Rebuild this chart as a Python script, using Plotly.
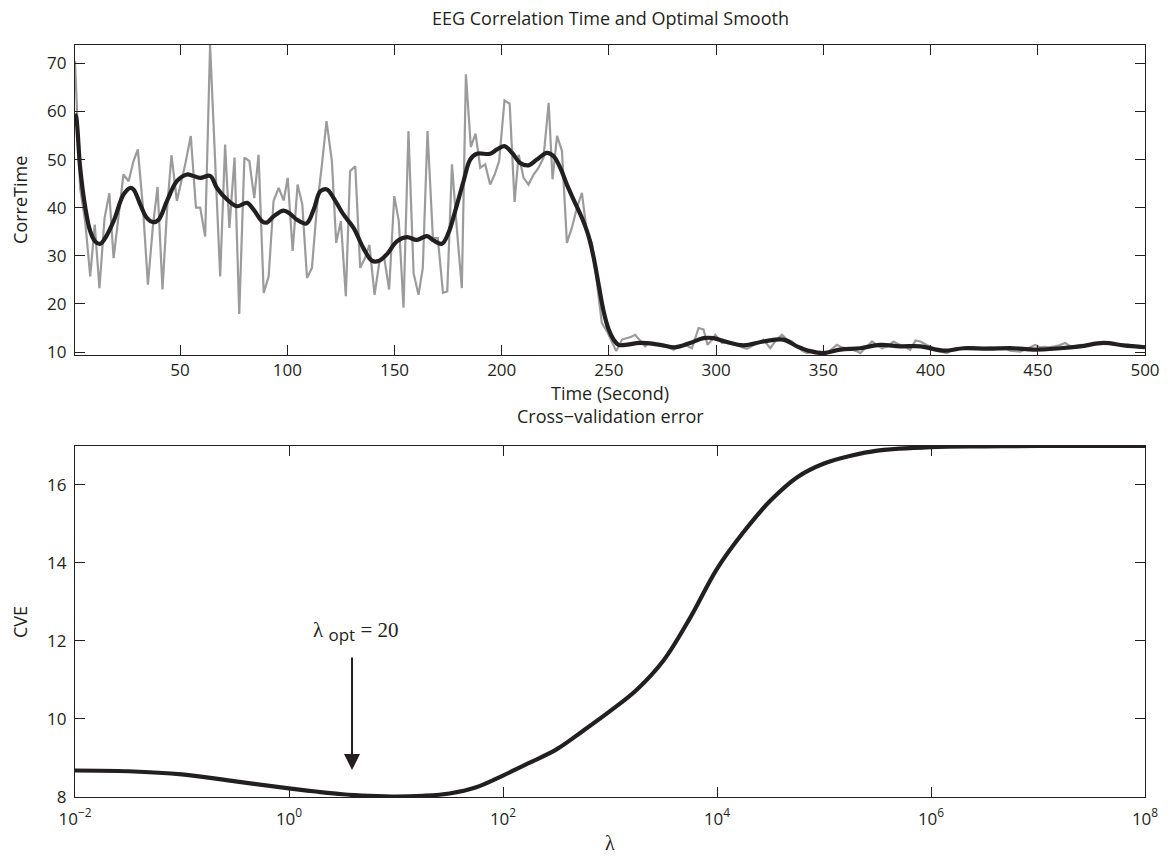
import plotly.graph_objects as go

# ---------------- data: top panel ----------------
raw_t = [1, 3.4, 5.8, 8.1, 10.2, 12.4, 14.8, 17, 19, 21.3, 23.6, 26, 28.3, 30.3, 32.7, 35, 37.3, 39.5, 41.8, 44,
         46, 48.5, 50.5, 52.4, 55, 57.4, 59.4, 61.7, 64, 66.3, 68.7, 71, 73, 75.4, 77.6, 80, 82.3, 84.6, 86.6, 89,
         91.3, 93.6, 96, 98.3, 100.2, 102.5, 104.8, 107, 109.2, 111.5, 113.8, 116, 118.3, 120.8, 122.8, 125, 127.3,
         129.3, 131.7, 134, 136.3, 138.3, 140.7, 143, 145.2, 147.5, 149.9, 152, 154.2, 156.5, 158.9, 161.2, 163.2,
         165.4, 167.9, 170.2, 172.6, 174.6, 176.8, 179.1, 181.4, 183.3, 185.6, 187.8, 190, 192.3, 194.6, 196.7,
         198.8, 201.3, 203.7, 206, 207.9, 210.2, 212.5, 214.9, 217.2, 219.5, 221.9, 223.7, 225.8, 228.1, 230.4,
         232.7, 235.1, 237.4, 239.7, 242.1, 244.4, 246.7, 249.1, 251.4, 253.4, 256.1, 258.4, 260.5, 262.2, 264.5,
         266.9, 268.8, 270.8, 273, 275.5, 278, 280.1, 282.5, 284.8, 286.8, 288.7, 291.8, 294.1, 296, 298, 299.6,
         302.7, 305, 307.5, 310, 312, 314.3, 317, 319.5, 322.1, 325.2, 328, 330.7, 333, 335.3, 338, 340, 342.3, 345,
         347.5, 350, 351.7, 354, 356.3, 358.5, 361, 363.5, 365.5, 367.2, 370, 372.7, 375, 377.3, 380, 382.7, 385.8,
         387.5, 390.5, 393, 395.2, 397.5, 399.8, 402, 405, 407.6, 410, 412, 415.4, 418, 420, 422, 425, 428, 430,
         432, 435, 437, 441.8, 444, 446, 448.8, 451, 453, 455, 458, 460, 462.8, 465, 467, 470, 472, 476, 478, 480,
         482, 485.4, 488, 490, 492, 495, 497, 500]
raw_v = [70.5, 44, 37, 25.7, 36.5, 23.3, 37.9, 43, 29.5, 38, 46.9, 45.5, 49.7, 52.1, 40, 24, 36, 44.3, 23, 40,
         50.9, 41.4, 45, 49, 54.9, 40, 40, 34, 73.8, 50, 25.7, 53.1, 35.8, 50.4, 17.9, 50.4, 49.7, 42, 51, 22.3,
         25.7, 41.4, 44.1, 41.5, 46.2, 31, 44.8, 40.7, 25.4, 27.5, 40, 48.3, 58, 49.7, 32.7, 37.2, 21.6,
         47.6, 48.6, 27.5, 29.6, 32.3, 21.9, 28.9, 29.6, 23, 42.4, 37.2, 19.2, 55.9, 26.4, 21.9, 27.5,
         55.9, 33.7, 33.7, 22.3, 22.6, 49, 35.5, 23.3, 67.7, 52.6, 55.4, 48.3, 49, 44.8, 46.9,
         49.7, 62.3, 61.6, 41.2, 51, 46.2, 44.8, 46.9, 48.3, 50.4, 61.8, 45.9, 54.9, 51.8, 32.7,
         35.8, 40, 43.1, 34.8, 32.7, 24, 16, 14.3, 11.9, 10.2, 12.6, 12.9, 13.2, 13.6, 12.5,
         11.2, 12, 11.9, 11.6, 11.3, 10.9, 10.5, 11.1, 11.5, 11.2, 10.8, 15, 14.7, 11.5, 12.5, 13.6,
         11.9, 12.3, 11.8, 11.3, 11, 10.7, 11.4, 12, 12.6, 10.8, 12.5, 13.6, 12.6, 12.2, 11, 10.3, 9.8, 10.1,
         9.9, 10, 9.8, 10.6, 11.5, 11, 10.8, 10.5, 10.2, 9.8, 11, 12.2, 11.5, 10.8, 11.2, 12.2, 11.5,
         11.2, 10.5, 12.4, 12.2, 11.6, 11, 10.6, 10.1, 9.8, 10.4, 10.9, 10.8, 10.9, 11.1, 10.7, 10.9, 11, 10.9,
         10.7, 10.8, 10.3, 10.1, 10.6, 10.9, 11.5, 11, 11.1, 11, 11.2, 11.4, 11.9, 11.3, 11.2, 11.5, 11.4, 11.5, 11.9, 11.7,
         12, 11.6, 11.5, 11.3, 11.6, 11.2, 11, 11.2]

smooth_t = [1, 1.6, 3.4, 5.8, 8.1, 10.4, 12.8, 15.1, 19, 23.6, 26.7, 28.3, 31.4, 34.5, 37.6, 40, 43.9, 48.5, 53.2,
            55.5, 59.4, 64, 67.2, 71.9, 76.5, 81.2, 84.3, 88.2, 90.5, 93.6, 98.3, 101.4, 104.5, 108.9, 112.3, 115.4,
            118.5, 121.6, 126.2, 130.9, 135.5, 139.4, 142.5, 146.4, 151.1, 155.8, 160.4, 165.1, 168.2, 172.1, 175.2,
            178.3, 182.2, 185.3, 188.4, 194.6, 197.8, 201.2, 204.8, 208.6, 212.5, 216.4, 221.1, 224.2, 227.3, 230.4,
            233.5, 237.4, 240.5, 242.9, 245.2, 247.5, 249.9, 252.2, 254.5, 257.6, 264.6, 273.9, 280.9, 287.9, 294.1,
            298.8, 305, 312.8, 322.1, 331.4, 337.7, 343.9, 350.1, 357.9, 367.2, 376.5, 385.8, 395.2, 406, 415.4,
            426.3, 438.7, 448, 460.5, 469.8, 480.7, 490, 500]
smooth_v = [59.5, 58.7, 48.3, 40, 35.1, 33, 32.5, 33.7, 37.2, 42.7, 44.1, 43.8, 40.7, 37.9, 37, 37.5, 41.4, 45.5, 46.9,
            46.7, 46.2, 46.6, 44.1, 41.7, 40.3, 41, 39.6, 37.2, 36.9, 38.2, 39.4, 38.7, 37.5, 36.7, 39.6, 43.4,
            43.8, 42, 38.6, 35.8, 31.6, 29, 28.9, 30.3, 33, 33.9, 33.3, 34.1, 33.2, 32.5, 34.8,
            39.3, 45.5, 50, 51.2, 51.2, 52.1, 52.8, 51.4, 49.3, 48.8, 50, 51.4, 50.7, 48.3, 44.8,
            41.7, 37.9, 34.1, 29.6, 24, 18.5, 14.7, 12.6, 11.5, 11.5, 11.9, 11.5, 11, 11.9, 12.9,
            12.9, 12.1, 11.4, 12.2, 12.6, 11.2, 10.2, 9.8, 10.5, 10.8, 11.5, 11.2, 11.2, 10.3, 10.8,
            10.7, 10.8, 10.5, 10.8, 11.2, 11.9, 11.4, 11]

top_xticks = [50, 100, 150, 200, 250, 300, 350, 400, 450, 500]
top_yticks = [10, 20, 30, 40, 50, 60, 70]

# ---------------- data: bottom panel ----------------
lam = [1e-2, 10**-1.5, 1e-1, 10**-0.5, 1, 10**0.25, 10**0.5, 10**0.75, 10, 10**1.25, 10**1.5, 10**1.75, 1e2,
       10**2.25, 10**2.5, 10**2.75, 1e3, 10**3.25, 10**3.5, 10**3.75, 1e4, 10**4.25, 10**4.5, 10**4.75, 1e5,
       10**5.25, 10**5.5, 1e6, 10**6.5, 1e7, 1e8]
cve = [8.68, 8.66, 8.58, 8.40, 8.22, 8.14, 8.07, 8.03, 8.01, 8.03, 8.09, 8.25, 8.55,
       8.88, 9.22, 9.7, 10.2, 10.75, 11.5, 12.6, 13.85, 14.8, 15.6, 16.2, 16.55,
       16.75, 16.88, 16.97, 16.99, 17.0, 17.0]
bot_xticks = [1e-2, 1, 1e2, 1e4, 1e6, 1e8]
bot_xtext = ["10<sup>\u22122</sup>", "10<sup>0</sup>", "10<sup>2</sup>", "10<sup>4</sup>",
             "10<sup>6</sup>", "10<sup>8</sup>"]
bot_yticks = [8, 10, 12, 14, 16]

INK = "#231f20"
FONT = "Open Sans"
FS = 18
TFS = 17

fig = go.Figure()
fig.add_trace(go.Scatter(x=raw_t, y=raw_v, mode="lines", line=dict(color="#9b9b9b", width=2.2),
                         xaxis="x", yaxis="y", showlegend=False))
fig.add_trace(go.Scatter(x=smooth_t, y=smooth_v, mode="lines", line=dict(color=INK, width=4.2, shape="spline"),
                         xaxis="x", yaxis="y", showlegend=False))
fig.add_trace(go.Scatter(x=lam, y=cve, mode="lines", line=dict(color=INK, width=4.2, shape="spline"),
                         xaxis="x2", yaxis="y2", showlegend=False))

axis_common = dict(showline=True, linecolor=INK, linewidth=1.2, mirror="ticks", ticks="inside",
                   ticklen=10, tickwidth=1, tickcolor=INK, showgrid=False, zeroline=False,
                   tickfont=dict(family=FONT, size=TFS, color=INK))

fig.update_layout(
    width=1173, height=857,
    margin=dict(l=75, r=28, t=45, b=60),
    paper_bgcolor="white", plot_bgcolor="white",
    font=dict(family=FONT, size=FS, color=INK),
    xaxis=dict(domain=[0, 1], anchor="y", range=[1, 500], tickvals=top_xticks, **axis_common),
    yaxis=dict(domain=[0.5878, 1], anchor="x", range=[9.4, 73.8], tickvals=top_yticks, ticklabelstandoff=4,
               **axis_common),
    xaxis2=dict(domain=[0, 1], anchor="y2", type="log", range=[-2, 8], tickvals=bot_xticks,
                ticktext=bot_xtext, ticklabelstandoff=6, **axis_common),
    yaxis2=dict(domain=[0, 0.4668], anchor="x2", range=[8, 17], tickvals=bot_yticks, ticklabelstandoff=4,
                **axis_common),
)

def txt(text, x, y, size=FS, angle=0, family=FONT):
    fig.add_annotation(text=text, x=x, y=y, xref="paper", yref="paper", showarrow=False,
                       xanchor="center", yanchor="middle", textangle=angle,
                       font=dict(family=family, size=size, color=INK))

txt("EEG Correlation Time and Optimal Smooth", 0.5, 1.0359)
txt("Time (Second)", 0.5, 0.5372)
txt("CorreTime", -0.0514, 0.794, angle=-90)
txt("Cross\u2212validation error", 0.5, 0.5066)
txt("CVE", -0.0514, 0.2327, angle=-90)
txt("\u03bb", 0.5, -0.0612, size=20, family="Liberation Serif")

# arrow marking the optimum
fig.add_annotation(x=0.589, y=8.69, xref="x2", yref="y2", text="", showarrow=True,
                   ax=0, ay=-114, arrowhead=2, arrowsize=1.6, arrowwidth=2, arrowcolor=INK)
fig.add_annotation(x=0.617, y=12.23, xref="x2", yref="y2", showarrow=False,
                   text="\u03bb <sub><span style='font-family:Open Sans;font-size:17px'>opt</span></sub> = 20",
                   font=dict(family="Liberation Serif", size=21, color=INK))

fig.write_html("out.html")
